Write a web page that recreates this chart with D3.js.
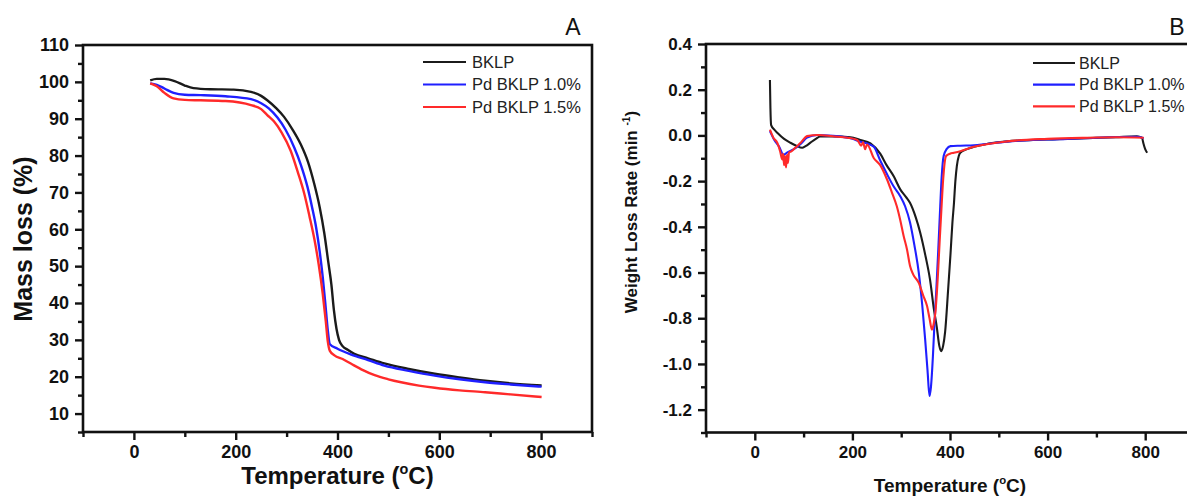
<!DOCTYPE html>
<html>
<head>
<meta charset="utf-8">
<script src="https://cdn.jsdelivr.net/npm/d3@7"></script>
<style>
  body { margin: 0; background: #fff; }
  svg { display: block; font-family: "Liberation Sans", Arial, sans-serif; }
</style>
</head>
<body>
<div id="chart"></div>
<script>
// series names / colours
const seriesNames = ["BKLP", "Pd BKLP 1.0%", "Pd BKLP 1.5%"];
const seriesColors = ["#1b1b1b", "#1f1fff", "#ff2a2a"];

// panel A: TGA mass loss (%) vs temperature (C), [T, value]
const tgaBKLP = [[32,100.4],[45,100.8],[60,100.8],[80,100.2],[100,99.0],[117,98.3],[150,98.0],[196,97.9],[230,97.3],[250,96.2],[262,95.0],[280,92.8],[295,90.5],[312,87.0],[328,83.0],[342,78.3],[354,72.5],[365,66.0],[374,59.0],[382,51.0],[388,45.0],[393,38.0],[398,33.0],[403,30.0],[410,28.3],[420,27.3],[433,26.2],[460,25.0],[492,23.6],[540,22.1],[591,20.8],[640,19.8],[690,18.9],[740,18.2],[801,17.6]];
const tgaPd10 = [[32,99.6],[45,99.2],[60,98.2],[78,97.0],[100,96.5],[131,96.4],[180,96.1],[230,95.3],[250,94.2],[265,92.8],[282,90.3],[298,87.0],[315,82.2],[328,77.5],[341,71.5],[350,66.0],[358,60.5],[365,54.0],[371,47.0],[376,40.0],[381,32.5],[385,28.8],[400,27.6],[427,26.0],[460,24.5],[492,23.0],[540,21.6],[591,20.3],[640,19.3],[690,18.5],[740,17.9],[801,17.3]];
const tgaPd15 = [[32,99.6],[45,98.8],[60,97.0],[78,95.5],[100,95.1],[131,95.0],[180,94.8],[230,93.7],[250,92.6],[262,91.0],[275,89.3],[290,86.3],[308,81.3],[322,75.5],[335,69.5],[345,63.5],[355,57.0],[363,50.5],[371,42.5],[377,35.0],[381,29.5],[385,27.0],[394,25.8],[410,24.8],[427,23.5],[450,21.8],[473,20.4],[500,19.3],[525,18.5],[560,17.6],[591,17.0],[640,16.3],[690,15.8],[740,15.2],[801,14.5]];

// panel B: DTG weight loss rate (min^-1) vs temperature (C), [T, value]
const dtgBKLP = [[31,0.242],[32,0.12],[33.5,0.045],[40,0.025],[46,0.012],[60,-0.015],[73,-0.032],[85,-0.045],[97,-0.054],[104,-0.047],[114,-0.032],[125,-0.015],[134,-0.005],[160,-0.004],[196,-0.008],[216,-0.02],[237,-0.035],[257,-0.08],[270,-0.13],[285,-0.18],[298,-0.236],[310,-0.27],[318,-0.295],[330,-0.36],[339,-0.426],[350,-0.53],[359,-0.63],[367,-0.76],[373,-0.84],[378,-0.92],[382,-0.944],[386,-0.92],[390,-0.86],[396,-0.68],[401,-0.52],[405,-0.38],[408,-0.3],[411,-0.2],[414,-0.134],[418,-0.09],[421,-0.076],[435,-0.06],[449,-0.05],[480,-0.035],[517,-0.026],[570,-0.02],[619,-0.017],[680,-0.012],[740,-0.008],[783,-0.004],[793,-0.01],[797,-0.04],[800,-0.06],[804,-0.076]];
const dtgPd10 = [[31,0.019],[40,-0.02],[50,-0.05],[59,-0.085],[66,-0.075],[80,-0.06],[95,-0.035],[107,-0.01],[128,0.002],[160,-0.002],[200,-0.015],[216,-0.028],[230,-0.035],[244,-0.05],[257,-0.11],[271,-0.17],[285,-0.225],[298,-0.266],[308,-0.31],[318,-0.38],[327,-0.48],[336,-0.6],[343,-0.74],[349,-0.89],[354,-1.03],[358,-1.14],[361,-1.1],[365,-0.966],[368,-0.83],[372,-0.674],[376,-0.5],[380,-0.31],[383,-0.18],[387,-0.09],[393,-0.06],[401,-0.047],[421,-0.045],[449,-0.043],[517,-0.027],[570,-0.02],[625,-0.017],[700,-0.01],[783,-0.006],[797,-0.012]];
const dtgPd15 = [[31,0.025],[38,-0.01],[46,-0.032],[52,-0.07],[56,-0.105],[58,-0.08],[60,-0.13],[62,-0.09],[64,-0.14],[66,-0.085],[68,-0.12],[70,-0.075],[75,-0.07],[83,-0.054],[95,-0.03],[107,-0.003],[130,0.002],[160,-0.004],[190,-0.01],[210,-0.02],[218,-0.045],[222,-0.03],[226,-0.06],[230,-0.04],[244,-0.1],[257,-0.13],[271,-0.193],[281,-0.25],[291,-0.31],[298,-0.37],[305,-0.44],[312,-0.5],[318,-0.57],[325,-0.61],[336,-0.645],[345,-0.7],[353,-0.747],[358,-0.8],[363,-0.85],[367,-0.82],[370,-0.776],[375,-0.62],[379,-0.455],[383,-0.3],[386,-0.193],[392,-0.09],[400,-0.08],[408,-0.076],[421,-0.069],[449,-0.05],[517,-0.026],[600,-0.015],[688,-0.01],[740,-0.008],[797,-0.01]];

// ticks
const xTicks = [0, 200, 400, 600, 800];
const xMinor = [-100, 100, 300, 500, 700, 900];
const yTicksA = [10, 20, 30, 40, 50, 60, 70, 80, 90, 100, 110];
const yMinorA = [5, 15, 25, 35, 45, 55, 65, 75, 85, 95, 105];
const yTicksB = [-1.2, -1.0, -0.8, -0.6, -0.4, -0.2, 0.0, 0.2, 0.4];
const yMinorB = [-1.3, -1.1, -0.9, -0.7, -0.5, -0.3, -0.1, 0.1, 0.3];

const svg = d3.select("#chart").append("svg")
    .attr("width", 1187)
    .attr("height", 497);

function drawPanel(opt) {
    const g = svg.append("g");
    const x = d3.scaleLinear().domain([-100, 900]).range([opt.left, opt.right]);
    const y = d3.scaleLinear().domain(opt.yDomain).range([opt.bottom, opt.top]);

    // frame
    g.append("rect")
        .attr("x", opt.left).attr("y", opt.top)
        .attr("width", opt.right - opt.left).attr("height", opt.bottom - opt.top)
        .attr("fill", "none").attr("stroke", "#111").attr("stroke-width", 2.6);

    // minor ticks
    g.append("g")
        .attr("transform", `translate(0,${opt.bottom})`)
        .call(d3.axisBottom(x).tickValues(xMinor).tickSize(5).tickSizeOuter(0).tickFormat(""))
        .call(a => a.select(".domain").remove());
    g.append("g")
        .attr("transform", `translate(${opt.left},0)`)
        .call(d3.axisLeft(y).tickValues(opt.yMinor).tickSize(5).tickSizeOuter(0).tickFormat(""))
        .call(a => a.select(".domain").remove());

    // major ticks + labels
    const xa = g.append("g")
        .attr("transform", `translate(0,${opt.bottom})`)
        .call(d3.axisBottom(x).tickValues(xTicks).tickSize(8).tickPadding(5).tickSizeOuter(0));
    const ya = g.append("g")
        .attr("transform", `translate(${opt.left},0)`)
        .call(d3.axisLeft(y).tickValues(opt.yTicks).tickSize(8).tickPadding(6).tickSizeOuter(0).tickFormat(opt.fmt));
    [xa, ya].forEach(a => {
        a.select(".domain").remove();
        a.selectAll("text").attr("font-size", opt.tickFont).attr("font-weight", "bold")
            .attr("font-family", "Liberation Sans, Arial, sans-serif").attr("fill", "#111");
    });
    g.selectAll(".tick line").attr("stroke", "#111").attr("stroke-width", 2.4);

    // curves
    const line = d3.line().x(d => x(d[0])).y(d => y(d[1])).curve(d3.curveMonotoneX);
    opt.series.forEach((s, i) => {
        g.append("path")
            .datum(s)
            .attr("fill", "none")
            .attr("stroke", seriesColors[i])
            .attr("stroke-width", opt.lineWidth)
            .attr("stroke-linejoin", "round")
            .attr("d", line);
    });

    // legend
    seriesNames.forEach((name, i) => {
        const ly = opt.legend.y + i * opt.legend.dy;
        g.append("line")
            .attr("x1", opt.legend.x1).attr("x2", opt.legend.x2)
            .attr("y1", ly).attr("y2", ly)
            .attr("stroke", seriesColors[i]).attr("stroke-width", 2.2);
        g.append("text")
            .attr("x", opt.legend.tx).attr("y", ly + opt.legend.font * 0.36)
            .attr("font-size", opt.legend.font).attr("fill", "#222")
            .text(name);
    });

    // panel letter
    g.append("text")
        .attr("x", opt.letter.x).attr("y", opt.letter.y)
        .attr("text-anchor", "middle").attr("font-size", 23).attr("fill", "#111")
        .text(opt.letter.text);

    // x title
    const xt = g.append("text")
        .attr("x", (opt.left + opt.right) / 2).attr("y", opt.xTitle.y)
        .attr("text-anchor", "middle").attr("font-size", opt.xTitle.font)
        .attr("font-weight", "bold").attr("fill", "#111");
    xt.append("tspan").text("Temperature (");
    xt.append("tspan").attr("font-size", opt.xTitle.font * 0.6).attr("dy", -opt.xTitle.font * 0.4).text("o");
    xt.append("tspan").attr("dy", opt.xTitle.font * 0.4).text("C)");

    // y title
    const yt = g.append("text")
        .attr("transform", `translate(${opt.yTitle.x},${opt.yTitle.y}) rotate(-90)`)
        .attr("text-anchor", "middle").attr("font-size", opt.yTitle.font)
        .attr("font-weight", "bold").attr("fill", "#111");
    opt.yTitle.parts.forEach(p => {
        const t = yt.append("tspan").text(p.text);
        if (p.sup) t.attr("font-size", opt.yTitle.font * 0.6).attr("dy", -opt.yTitle.font * 0.4);
        if (p.down) t.attr("dy", opt.yTitle.font * 0.4);
    });
}

drawPanel({
    left: 83, right: 592, top: 45, bottom: 432,
    yDomain: [5, 110], yTicks: yTicksA, yMinor: yMinorA,
    fmt: d => d, tickFont: 18, lineWidth: 2.4,
    series: [tgaBKLP, tgaPd10, tgaPd15],
    legend: { x1: 423, x2: 466, tx: 472, y: 62, dy: 22.5, font: 16.5 },
    letter: { text: "A", x: 573, y: 35 },
    xTitle: { y: 484, font: 24 },
    yTitle: { x: 32, y: 239, font: 25, parts: [{ text: "Mass loss (%)" }] }
});

drawPanel({
    left: 706, right: 1194, top: 44, bottom: 432.5,
    yDomain: [-1.3, 0.4], yTicks: yTicksB, yMinor: yMinorB,
    fmt: d => d.toFixed(1), tickFont: 17, lineWidth: 2.1,
    series: [dtgBKLP, dtgPd10, dtgPd15],
    legend: { x1: 1033, x2: 1075, tx: 1079, y: 63, dy: 21.7, font: 16 },
    letter: { text: "B", x: 1177, y: 35 },
    xTitle: { y: 492, font: 19 },
    yTitle: { x: 637, y: 212, font: 17, parts: [
        { text: "Weight Loss Rate (min " }, { text: "-1", sup: true }, { text: ")", down: true }] }
});
</script>
</body>
</html>
